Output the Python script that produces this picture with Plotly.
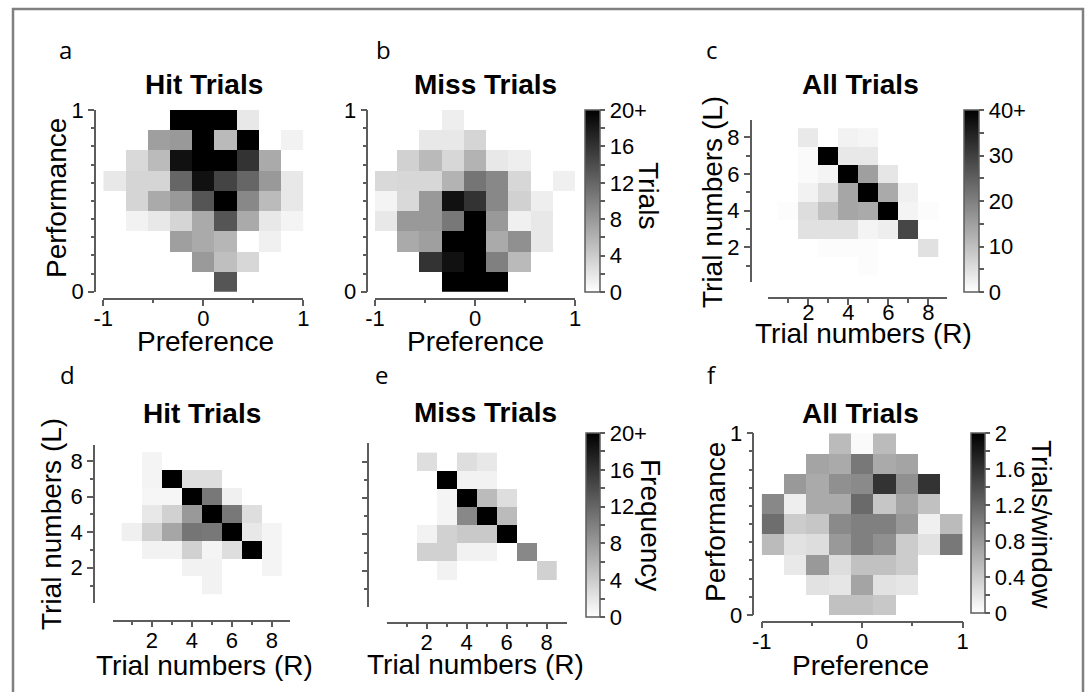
import plotly.graph_objects as go

W, H = 1088, 692
SANS = "Liberation Sans, Arial, Helvetica, sans-serif"
N = None

# ---------------- bin centres ----------------
pref_edges = [-1 + 2 * i / 9 for i in range(10)]
pref_bins = [(a + b) / 2 for a, b in zip(pref_edges[:-1], pref_edges[1:])]
perf_bins_desc = [1 - (2 * i + 1) / 18 for i in range(9)]      # top row first
trial_r = [1, 2, 3, 4, 5, 6, 7, 8]
trial_l_desc = [8, 7, 6, 5, 4, 3, 2, 1]                          # top row first

# ---------------- counts (rows listed top -> bottom) ----------------
hit_pref_perf = [
    [N, N, N, 20, 20, 20, 1.8, N, N],
    [N, N, 7.5, 8, 20, 5.4, 20, N, 1.0],
    [N, 3.0, 5.3, 18.7, 20, 20, 16, 6.7, N],
    [1.8, 3.3, 3.3, 12, 18.7, 14.7, 12, 8, 1.8],
    [N, 3.3, 6.7, 8, 13.3, 20, 9.3, 5.3, 1.8],
    [N, 1.0, 1.8, 3.3, 6.7, 13.3, 6.7, 1.8, 0.9],
    [N, N, N, 7.5, 6.7, 5.7, 0, 1.2, N],
    [N, N, N, N, 7.9, 5.0, 3.1, N, N],
    [N, N, N, N, N, 13.3, N, N, N],
]

miss_pref_perf = [
    [N, N, N, 1.3, N, N, N, N, N],
    [N, N, 1.8, 1.8, 3.3, N, N, N, N],
    [N, 3.6, 5.4, 3.1, 6.0, 1.8, 1.3, N, N],
    [3.0, 3.1, 3.1, 6.0, 10.8, 9.3, 3.1, N, 1.2],
    [0.9, 3.0, 8.0, 18.7, 16, 9.3, 3.6, 1.3, N],
    [1.8, 8.0, 8.0, 10.6, 20, 8.0, 1.2, 1.8, N],
    [N, 6.7, 7.5, 20, 20, 6.7, 8.7, 1.8, N],
    [N, N, 16, 18.7, 20, 10, 5.4, N, N],
    [N, N, N, 20, 20, 20, N, N, N],
]

all_trial_counts = [
    [N, 3.5, N, 2.0, 1.5, N, N, N],
    [N, 0.8, 40, 3.6, 3.6, N, N, N],
    [N, 0.8, 1.7, 40, 15, 3.9, N, N],
    [N, 2.0, 5.3, 14, 40, 13.3, 2.3, N],
    [0.5, 5.3, 9.6, 14, 13.3, 40, 1.7, 0.5],
    [N, 4.7, 4.7, 4.7, 1.7, 2.7, 29, N],
    [N, N, 0.5, 0.5, 0.5, N, N, 4.7],
    [N, N, N, N, 0.5, N, N, N],
]

hit_trial_counts = [
    [N, 0.9, N, N, N, N, N, N],
    [N, 0.9, 20, 2.6, 2.6, N, N, N],
    [N, 0.7, 0.7, 20, 10.6, 1.2, N, N],
    [N, 1.8, 3.6, 8.0, 20, 10.6, 2.6, N],
    [1.2, 3.6, 7.0, 10.8, 10.6, 20, 1.8, 0.9],
    [N, 1.0, 1.0, 3.6, 0.9, 2.6, 20, 0.9],
    [N, N, N, 1.0, 1.0, N, N, 0.9],
    [N, N, N, N, 1.0, N, N, N],
]

miss_trial_counts = [
    [N, 2.6, N, 2.6, 1.8, N, N, N],
    [N, N, 20, 1.0, 1.0, N, N, N],
    [N, N, 0.9, 20, 5.3, 2.6, N, N],
    [N, N, 0.9, 9.3, 20, 5.3, N, N],
    [N, 1.0, 3.6, 4.2, 4.2, 20, N, N],
    [N, 3.6, 3.6, 1.0, 1.0, N, 9.3, N],
    [N, N, 1.0, N, N, N, N, 3.6],
    [N, N, N, N, N, N, N, N],
]

all_pref_perf_rate = [
    [N, N, N, 0.53, 0.04, 0.53, N, N, N],
    [N, N, 0.71, 0.67, 1.06, 0.67, 0.71, N, N],
    [N, 0.80, 0.67, 0.87, 0.92, 1.60, 0.87, 1.60, N],
    [0.93, 0.13, 0.67, 0.67, 1.17, 0.45, 0.71, 0.49, N],
    [1.14, 0.40, 0.45, 0.92, 1.00, 1.00, 0.80, 0.12, 0.53],
    [0.53, 0.23, 0.27, 0.80, 1.00, 0.87, 0.40, 0.23, 1.06],
    [N, 0.17, 0.80, 0.27, 0.49, 0.49, 0.40, N, N],
    [N, N, 0.23, 0.20, 0.71, 0.23, 0.20, N, N],
    [N, N, N, 0.49, 0.49, 0.43, N, N, N],
]

# colourbar ticks
count20_vals = [0, 2, 4, 6, 8, 10, 12, 14, 16, 18, 20]
count20_text = ["0", "", "4", "", "8", "", "12", "", "16", "", "20+"]
count40_vals = [0, 5, 10, 15, 20, 25, 30, 35, 40]
count40_text = ["0", "", "10", "", "20", "", "30", "", "40+"]
rate_vals = [0, 0.2, 0.4, 0.6, 0.8, 1.0, 1.2, 1.4, 1.6, 1.8, 2.0]
rate_text = ["0", "", "0.4", "", "0.8", "", "1.2", "", "1.6", "", "2"]


def fx(px):
    return px / W


def fy(py):
    return 1 - py / H


AX = "#5c5c5c"
TICKFONT = dict(family=SANS, size=22, color="black")
GRAYS = [[0, "#ffffff"], [1, "#000000"]]


def make_x(left, right, rng, line_y, vals, text, minor_vals, standoff=-6):
    return dict(domain=[fx(left), fx(right)], range=rng, anchor="free", position=fy(line_y),
                showline=True, linecolor=AX, linewidth=1.5, ticks="outside", ticklen=6,
                tickwidth=1.5, tickcolor=AX, tickmode="array", tickvals=vals, ticktext=text,
                tickfont=TICKFONT, ticklabelstandoff=standoff,
                showgrid=False, zeroline=False, fixedrange=True,
                minor=dict(tickmode="array", tickvals=minor_vals, ticks="outside", ticklen=3.5,
                           tickwidth=1.5, tickcolor=AX, showgrid=False))


def make_y(top, bottom, rng, line_x, vals, text, minor_vals):
    return dict(domain=[fy(bottom), fy(top)], range=rng, anchor="free", position=fx(line_x),
                showline=True, linecolor=AX, linewidth=1.5, ticks="outside", ticklen=6,
                tickwidth=1.5, tickcolor=AX, tickmode="array", tickvals=vals, ticktext=text,
                tickfont=TICKFONT, showgrid=False, zeroline=False, fixedrange=True,
                minor=dict(tickmode="array", tickvals=minor_vals, ticks="outside", ticklen=3.5,
                           tickwidth=1.5, tickcolor=AX, showgrid=False))


def make_cbar(left, top, bottom, thick, vals, text):
    return dict(x=fx(left), xanchor="left", y=fy(top), yanchor="top",
                len=(bottom - top) / H, lenmode="fraction", thickness=thick,
                thicknessmode="pixels", xpad=0, ypad=0, outlinewidth=1.5, outlinecolor=AX,
                ticks="outside", ticklen=5, tickwidth=1.5, tickcolor=AX,
                tickmode="array", tickvals=vals, ticktext=text, tickfont=TICKFONT)


pref_ticks = ([-1, 0, 1], ["-1", "0", "1"], [-0.5, 0.5])
perf_minor = [round(0.1 * i, 1) for i in range(1, 10)]
trial_major = [2, 4, 6, 8]
trial_labels = ["2", "4", "6", "8"]
trial_minor = [1, 3, 5, 7]

fig = go.Figure()

panels = [
    # axis suffix, x, y, z, zmax, colourbar
    ("", pref_bins, perf_bins_desc, hit_pref_perf, 20, None),
    ("2", pref_bins, perf_bins_desc, miss_pref_perf, 20,
     make_cbar(585, 110, 291.7, 14.5, count20_vals, count20_text)),
    ("3", trial_r, trial_l_desc, all_trial_counts, 40,
     make_cbar(964, 110, 291.7, 15, count40_vals, count40_text)),
    ("4", trial_r, trial_l_desc, hit_trial_counts, 20, None),
    ("5", trial_r, trial_l_desc, miss_trial_counts, 20,
     make_cbar(586, 433, 617, 14, count20_vals, count20_text)),
    ("6", pref_bins, perf_bins_desc, all_pref_perf_rate, 2,
     make_cbar(970.5, 433.3, 613.3, 14, rate_vals, rate_text)),
]

for name, xs, ys, z, zmax, cb in panels:
    fig.add_trace(go.Heatmap(
        x=xs, y=ys, z=z, xaxis="x" + name, yaxis="y" + name,
        colorscale=GRAYS, zmin=0, zmax=zmax, showscale=cb is not None,
        colorbar=cb, hoverinfo="skip"))

layout_axes = {
    "xaxis": make_x(103.3, 303.3, [-1, 1], 299, *pref_ticks),
    "yaxis": make_y(110, 291.7, [0, 1], 95, [0, 1], ["0", "1"], perf_minor),
    "xaxis2": make_x(375, 575, [-1, 1], 299, *pref_ticks),
    "yaxis2": make_y(110, 291.7, [0, 1], 367.3, [0, 1], ["0", "1"], perf_minor),
    "xaxis3": make_x(768.3, 946.7, [0, 8.92], 298.3, trial_major, trial_labels, trial_minor, -11),
    "yaxis3": make_y(120, 281.7, [0.13, 8.95], 750.7, trial_major, trial_labels, trial_minor),
    "xaxis4": make_x(113.3, 290, [0.08, 8.9], 620.7, trial_major, trial_labels, trial_minor),
    "yaxis4": make_y(445, 603, [0.02, 8.9], 94, trial_major, trial_labels, trial_minor),
    "xaxis5": make_x(386.7, 566.7, [0, 9], 622.7, trial_major, trial_labels, trial_minor),
    "yaxis5": make_y(443, 607, [0, 9.03], 368.3, trial_major, ["", "", "", ""], trial_minor),
    "xaxis6": make_x(761.7, 962.7, [-1, 1], 621.7, *pref_ticks),
    "yaxis6": make_y(433.3, 615, [0, 1], 753.3, [0, 1], ["0", "1"], perf_minor),
}

# text labels: (text, x px, y px, size, bold, angle, family)
LETTER = "Open Sans, Noto Sans, sans-serif"
labels = [
    ("a", 65, 50, 24, False, 0, LETTER),
    ("b", 383, 50, 24, False, 0, LETTER),
    ("c", 712, 50, 24, False, 0, LETTER),
    ("d", 67, 374, 24, False, 0, LETTER),
    ("e", 381, 374, 24, False, 0, LETTER),
    ("f", 712, 374, 24, False, 0, LETTER),
    ("Hit Trials", 204, 85, 28, True, 0, SANS),
    ("Miss Trials", 485, 85, 28, True, 0, SANS),
    ("All Trials", 860, 85, 28, True, 0, SANS),
    ("Hit Trials", 202, 413, 28, True, 0, SANS),
    ("Miss Trials", 485, 412, 28, True, 0, SANS),
    ("All Trials", 860, 413, 28, True, 0, SANS),
    ("Performance", 56, 198, 28, False, -90, SANS),
    ("Preference", 205, 341, 28, False, 0, SANS),
    ("Preference", 475, 341, 28, False, 0, SANS),
    ("Trial numbers (L)", 712, 202, 28, False, -90, SANS),
    ("Trial numbers (R)", 863, 333, 28, False, 0, SANS),
    ("Trial numbers (L)", 51, 524, 28, False, -90, SANS),
    ("Trial numbers (R)", 204, 665, 28, False, 0, SANS),
    ("Trial numbers (R)", 475, 664, 28, False, 0, SANS),
    ("Performance", 715, 522, 28, False, -90, SANS),
    ("Preference", 860, 665, 28, False, 0, SANS),
    ("Trials", 648, 195, 28, False, 90, SANS),
    ("Frequency", 651, 525, 28, False, 90, SANS),
    ("Trials/window", 1042, 524, 28, False, 90, SANS),
]

annotations = []
for text, x, y, size, bold, angle, fam in labels:
    annotations.append(dict(
        text="<b>%s</b>" % text if bold else text, x=fx(x), y=fy(y), xref="paper", yref="paper",
        xanchor="center", yanchor="middle", showarrow=False, textangle=angle,
        font=dict(family=fam, size=size, color="black")))

fig.update_layout(
    width=W, height=H,
    margin=dict(l=0, r=0, t=0, b=0, pad=0, autoexpand=False),
    paper_bgcolor="white", plot_bgcolor="white",
    showlegend=False,
    annotations=annotations,
    shapes=[dict(type="rect", xref="paper", yref="paper",
                 x0=fx(13), x1=fx(1083), y0=-0.05, y1=fy(9),
                 line=dict(color="#808080", width=2.5), fillcolor="rgba(0,0,0,0)", layer="below")],
    **layout_axes,
)

fig.write_html("out.html")
